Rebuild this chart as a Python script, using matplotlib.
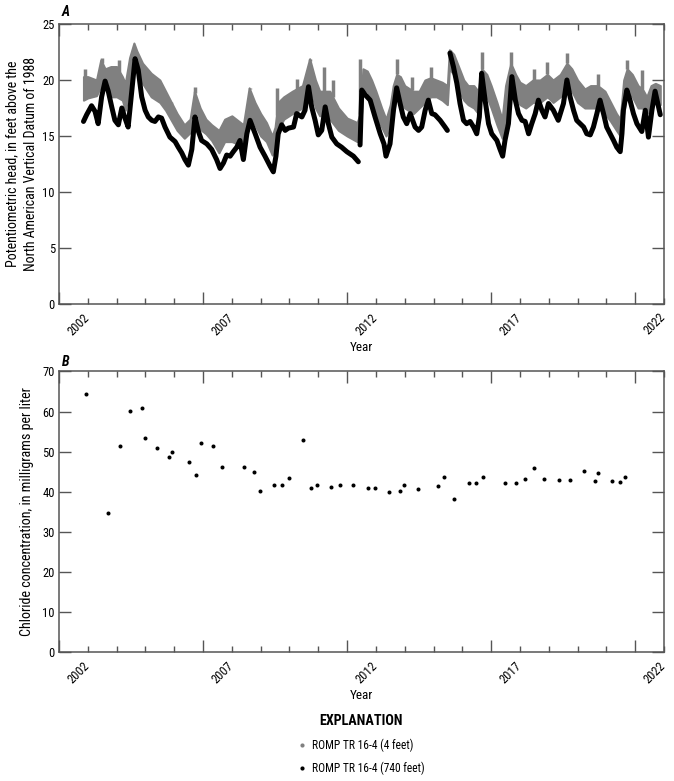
import numpy as np
import matplotlib
matplotlib.use("Agg")
import matplotlib.pyplot as plt
import matplotlib.transforms as mtrans
from matplotlib.lines import Line2D

plt.rcParams['font.family'] = ['Roboto Condensed', 'DejaVu Sans']

# --- panel A: potentiometric head (decimal year, feet) ---
deep_year = [2002.85, 2002.96, 2003.13, 2003.25, 2003.36, 2003.48, 2003.60, 2003.71, 2003.83,
             2003.94, 2004.06, 2004.18, 2004.29, 2004.40, 2004.64, 2004.75, 2004.87, 2004.99,
             2005.10, 2005.22, 2005.33, 2005.45, 2005.56, 2005.68, 2005.85, 2006.03, 2006.14,
             2006.26, 2006.37, 2006.49, 2006.61, 2006.72, 2006.84, 2006.95, 2007.13, 2007.30,
             2007.47, 2007.59, 2007.71, 2007.82, 2007.94, 2008.05, 2008.17, 2008.28, 2008.40,
             2008.52, 2008.63, 2008.81, 2008.98, 2009.15, 2009.33, 2009.44, 2009.53, 2009.61,
             2009.73, 2009.85, 2009.96, 2010.14, 2010.25, 2010.43, 2010.54, 2010.66, 2010.77,
             2010.89, 2011.00, 2011.12, 2011.24, 2011.35, 2011.47, 2011.64, 2011.81, 2011.99,
             2012.22, 2012.39, 2012.45, 2012.51, 2012.62, 2012.80, 2012.97, 2013.15, 2013.28,
             2013.35, 2013.49, 2013.61, 2013.72, 2013.84, 2013.95, 2014.07, 2014.19, 2014.36,
             2014.48, 2014.59, 2014.71, 2014.82, 2014.94, 2015.05, 2015.23, 2015.40, 2015.48,
             2015.57, 2015.69, 2015.81, 2015.92, 2016.04, 2016.15, 2016.27, 2016.39, 2016.50,
             2016.59, 2016.67, 2016.79, 2016.91, 2017.02, 2017.20, 2017.31, 2017.40, 2017.48,
             2017.60, 2017.72, 2017.84, 2017.95, 2018.07, 2018.18, 2018.30, 2018.41, 2018.53,
             2018.64, 2018.76, 2018.87, 2018.99, 2019.16, 2019.33, 2019.51, 2019.63, 2019.74,
             2019.86, 2019.97, 2020.09, 2020.21, 2020.32, 2020.44, 2020.55, 2020.67, 2020.78,
             2020.90, 2021.01, 2021.13, 2021.25, 2021.36, 2021.48, 2021.54, 2021.59, 2021.71,
             2021.82, 2021.94, 2022.06, 2022.23, 2022.35, 2022.46, 2022.58, 2022.69, 2022.81,
             2022.87]
deep_head = [16.3, 16.9, 17.7, 17.2, 16.1, 18.5, 19.9, 19.0, 17.6,
             16.4, 16.0, 17.5, 16.6, 15.8, 21.9, 20.9, 18.5, 17.3,
             16.7, 16.4, 16.3, 16.7, 16.6, 15.8, 14.9, 14.5, 14.0,
             13.5, 12.9, 12.4, 13.8, 16.7, 15.4, 14.6, 14.3, 13.8,
             12.9, 12.1, 12.6, 13.3, 13.2, 13.6, 14.0, 14.6, 12.9,
             15.2, 16.4, 15.2, 14.0, 13.2, 12.3, 11.8, 13.2, 15.2,
             16.0, 15.5, 15.7, 15.8, 17.0, 16.7, 17.3, 19.4, 17.6,
             16.4, 15.1, 15.5, 17.6, 16.1, 14.9, 14.3, 14.0, 13.6,
             13.2, 12.7, 14.2, 19.1, 18.7, 18.2, 16.7, 15.2, 14.3,
             13.2, 14.3, 17.3, 19.3, 17.9, 16.7, 16.1, 17.0, 15.8,
             15.5, 15.8, 17.3, 18.2, 17.0, 16.9, 16.4, 15.8, 15.5,
             22.4, 21.2, 19.7, 17.9, 16.4, 16.1, 16.3, 15.8, 15.2,
             16.7, 20.6, 18.2, 16.1, 15.2, 14.6, 13.8, 13.2, 14.6,
             16.1, 20.3, 18.2, 17.0, 16.4, 16.3, 15.2, 16.1, 17.0,
             18.2, 17.3, 16.7, 17.9, 17.3, 16.4, 17.9, 20.0, 18.5,
             17.3, 16.4, 16.1, 15.8, 15.2, 15.1, 15.8, 17.0, 18.2,
             17.0, 15.8, 15.2, 14.6, 14.0, 13.6, 15.2, 17.3, 19.1,
             18.2, 17.0, 16.1, 15.4, 17.3, 14.9, 17.3, 19.0, 17.6,
             16.9]

# shallow well: the daily record reads as a band, kept as its lower and upper edge
shallow_year = [2002.85, 2003.00, 2003.30, 2003.45, 2003.60, 2003.80, 2004.00, 2004.20, 2004.30,
                2004.45, 2004.60, 2004.70, 2004.90, 2005.20, 2005.50, 2005.70, 2005.90, 2006.10,
                2006.35, 2006.55, 2006.70, 2006.90, 2007.10, 2007.30, 2007.55, 2007.75, 2008.00,
                2008.20, 2008.40, 2008.60, 2008.80, 2009.00, 2009.20, 2009.40, 2009.50, 2009.60,
                2009.80, 2010.10, 2010.45, 2010.70, 2010.90, 2011.05, 2011.20, 2011.40, 2011.70,
                2012.00, 2012.35, 2012.45, 2012.55, 2012.70, 2012.85, 2013.00, 2013.20, 2013.35,
                2013.50, 2013.60, 2013.72, 2013.85, 2014.00, 2014.30, 2014.50, 2014.70, 2014.90,
                2015.10, 2015.30, 2015.48, 2015.55, 2015.70, 2015.90, 2016.05, 2016.20, 2016.40,
                2016.55, 2016.67, 2016.85, 2017.00, 2017.20, 2017.38, 2017.50, 2017.68, 2017.85,
                2018.00, 2018.20, 2018.45, 2018.70, 2018.95, 2019.15, 2019.40, 2019.63, 2019.80,
                2020.00, 2020.25, 2020.45, 2020.70, 2020.95, 2021.15, 2021.35, 2021.48, 2021.60,
                2021.72, 2021.90, 2022.10, 2022.25, 2022.40, 2022.55, 2022.70, 2022.87]
shallow_low = [18.2, 18.4, 18.6, 19.4, 19.4, 18.5, 18.5, 18.2, 17.3,
               19.0, 21.2, 20.8, 19.7, 18.5, 18.0, 17.3, 16.4, 15.5,
               14.8, 15.3, 16.7, 15.6, 15.2, 14.6, 13.5, 14.5, 14.5,
               14.3, 14.0, 16.7, 16.0, 15.0, 14.5, 13.3, 14.0, 15.5,
               16.5, 17.0, 17.5, 19.5, 17.5, 16.8, 17.0, 16.5, 15.5,
               15.0, 14.5, 15.0, 19.0, 19.0, 18.0, 16.8, 15.8, 15.0,
               15.8, 17.0, 18.5, 18.0, 17.5, 17.0, 17.5, 18.0, 18.5,
               18.5, 18.2, 17.8, 21.0, 20.5, 19.0, 18.2, 17.8, 17.5,
               17.0, 19.0, 18.5, 17.5, 16.0, 14.8, 16.5, 19.5, 18.5,
               17.8, 17.5, 18.0, 18.0, 18.5, 18.0, 18.5, 19.5, 19.0,
               18.0, 17.5, 17.5, 17.5, 17.0, 16.3, 15.5, 15.0, 17.0,
               19.0, 18.5, 17.5, 17.5, 17.0, 17.5, 18.0, 17.8]
shallow_high = [20.3, 20.3, 20.0, 21.8, 21.0, 21.2, 21.2, 20.3, 19.7,
                22.0, 23.3, 22.6, 21.5, 20.6, 20.0, 19.0, 18.0, 17.0,
                16.0, 16.5, 19.0, 17.5, 16.5, 16.0, 15.5, 16.5, 16.8,
                16.4, 16.0, 19.3, 18.0, 17.0, 16.2, 15.0, 15.8, 18.0,
                18.5, 19.0, 19.5, 21.9, 20.0, 19.0, 19.0, 19.0, 17.5,
                16.6, 16.2, 17.0, 21.0, 20.8, 20.0, 19.0, 17.5, 16.5,
                17.8, 19.5, 20.5, 20.3, 19.5, 19.0, 19.0, 20.0, 20.2,
                20.0, 19.8, 19.5, 22.7, 22.3, 21.0, 20.0, 19.5, 19.5,
                19.0, 21.0, 20.5, 19.5, 18.0, 16.5, 19.5, 21.5, 20.5,
                19.8, 19.5, 20.0, 20.0, 20.5, 20.0, 20.5, 21.5, 21.0,
                20.0, 19.2, 19.5, 19.5, 19.0, 18.0, 17.0, 16.5, 20.0,
                21.0, 20.5, 19.5, 19.2, 18.5, 19.5, 19.7, 19.5]
# isolated high readings of the shallow well
spike_year = [2002.90, 2003.50, 2004.10, 2005.90, 2006.72, 2008.62, 2009.55, 2010.25, 2010.72,
              2011.20, 2011.50, 2012.45, 2013.72, 2014.25, 2014.90, 2015.58, 2016.67, 2017.70,
              2018.50, 2018.95, 2019.63, 2020.72, 2021.73, 2022.23]
spike_head = [21.0, 22.0, 21.8, 17.6, 19.4, 19.3, 19.3, 20.1, 21.9,
              21.2, 20.0, 21.9, 21.9, 20.3, 21.2, 22.7, 22.5, 22.5,
              21.0, 21.6, 22.4, 20.5, 21.8, 20.9]

# --- panel B: chloride samples (decimal year, mg/L) ---
cl_year = [2002.94, 2003.69, 2004.13, 2004.45, 2004.89, 2005.00, 2005.39, 2005.82, 2005.92,
           2006.51, 2006.75, 2006.93, 2007.35, 2007.67, 2008.43, 2008.76, 2008.97, 2009.45,
           2009.75, 2009.97, 2010.47, 2010.74, 2010.96, 2011.45, 2011.77, 2012.21, 2012.73,
           2012.97, 2013.47, 2013.83, 2013.97, 2014.47, 2015.17, 2015.38, 2015.71, 2016.23,
           2016.47, 2016.71, 2017.47, 2017.88, 2018.18, 2018.50, 2018.83, 2019.35, 2019.73,
           2020.22, 2020.61, 2020.71, 2021.21, 2021.46, 2021.65]
cl_conc = [64.3, 34.8, 51.5, 60.1, 60.8, 53.5, 51.0, 48.8, 50.0,
           47.5, 44.1, 52.1, 51.5, 46.1, 46.1, 44.9, 40.2, 41.7,
           41.7, 43.5, 52.8, 40.9, 41.8, 41.2, 41.7, 41.6, 40.9,
           40.9, 39.9, 40.2, 41.6, 40.8, 41.5, 43.6, 38.1, 42.2,
           42.1, 43.6, 42.2, 42.1, 43.1, 46.0, 43.1, 42.9, 42.9,
           45.1, 42.6, 44.6, 42.8, 42.4, 43.6]

major_years = [2002, 2007, 2012, 2017, 2022]

gray = '#808080'
spine_col = '#555555'
W, H = 674, 781

fig = plt.figure(figsize=(6.74, 7.81), dpi=100)
ax1 = fig.add_axes([59 / W, 1 - 304 / H, 605 / W, 280 / H])
ax2 = fig.add_axes([59 / W, 1 - 652.3 / H, 605 / W, 280.8 / H])

ax1.fill_between(shallow_year, shallow_low, shallow_high, color=gray, lw=1.5, ec=gray, zorder=2)
base = np.interp(spike_year, shallow_year, shallow_high)
ax1.vlines(spike_year, base, spike_head, color=gray, lw=2.5, zorder=2)

dy = np.array(deep_year)
dh = np.array(deep_head)
cuts = [0, int(np.searchsorted(dy, 2012.42)), int(np.searchsorted(dy, 2015.52)), len(dy)]
for a, b in zip(cuts[:-1], cuts[1:]):
    ax1.plot(dy[a:b], dh[a:b], color='black', lw=3.6, solid_capstyle='round',
             solid_joinstyle='round', zorder=3)

ax2.plot(cl_year, cl_conc, 'o', color='black', ms=2.9, mec='none')

offset = mtrans.ScaledTranslation(24 / 100, -7 / 100, fig.dpi_scale_trans)
for ax, ymax, ystep in [(ax1, 25, 5), (ax2, 70, 10)]:
    ax.set_xlim(2002, 2023)
    ax.set_ylim(0, ymax)
    ax.set_xticks(major_years)
    ax.set_xticks(range(2002, 2024), minor=True)
    ax.set_yticks(np.arange(0, ymax + 1, ystep))
    ax.set_xticklabels([])
    for yr in major_years:
        ax.text(yr, 0, str(yr), transform=ax.get_xaxis_transform() + offset, rotation=45,
                rotation_mode='anchor', ha='right', va='top', fontsize=9)
    ax.tick_params(axis='both', which='both', direction='in', top=True, right=True,
                   color=spine_col, width=1.0, labelsize=9, pad=3)
    ax.tick_params(axis='x', which='major', length=8.5)
    ax.tick_params(axis='x', which='minor', length=4.3)
    ax.tick_params(axis='y', which='major', length=8.5)
    for s in ax.spines.values():
        s.set_color(spine_col)
        s.set_linewidth(1.1)
    ax.set_xlabel('Year', fontsize=9.5, labelpad=23.5)

ax1.set_ylabel('Potentiometric head, in feet above the\nNorth American Vertical Datum of 1988',
               fontsize=10, linespacing=1.45)
ax1.yaxis.set_label_coords(-21 / 605, 0.5)
ax2.set_ylabel('Chloride concentration, in milligrams per liter', fontsize=10.2)
ax2.yaxis.set_label_coords(-25 / 605, 0.5)

fig.text(62 / W, 1 - 12 / H, 'A', fontsize=10, fontweight='bold', style='italic', va='center')
fig.text(62 / W, 1 - 362 / H, 'B', fontsize=10, fontweight='bold', style='italic', va='center')

handles = [Line2D([], [], ls='none', marker='o', color=gray, ms=3, mec='none'),
           Line2D([], [], ls='none', marker='o', color='black', ms=3, mec='none')]
leg = fig.legend(handles, ['ROMP TR 16-4 (4 feet)', 'ROMP TR 16-4 (740 feet)'],
                 loc='upper center', bbox_to_anchor=(361.5 / W, 1 - 704 / H),
                 frameon=False, fontsize=8.3, title='EXPLANATION',
                 handlelength=0.6, handletextpad=0.6, labelspacing=0.85)
leg.get_title().set_fontweight('bold')
leg.get_title().set_fontsize(10.2)

fig.savefig('out.png', dpi=100)
